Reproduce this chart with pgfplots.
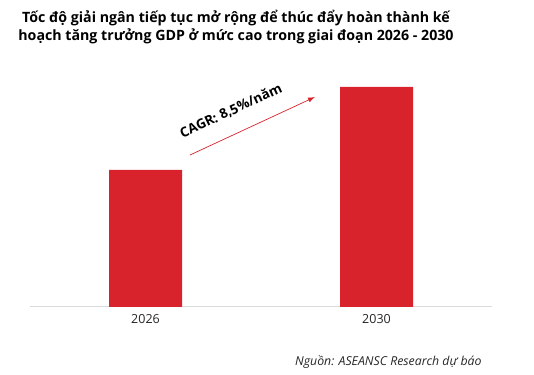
\documentclass[border=0pt]{standalone}
\usepackage{fontspec}
\setmainfont{Open Sans}
\usepackage{pgfplots}
\usetikzlibrary{arrows.meta}
\pgfplotsset{compat=1.18}
\definecolor{barred}{RGB}{216,35,45}
\definecolor{basegray}{RGB}{220,220,220}
\begin{document}
\begin{tikzpicture}[x=1pt,y=1pt]
\path[use as bounding box] (0,0) rectangle (534,374);
\begin{axis}[
  at={(30pt,67pt)}, anchor=south west,
  width=462pt, height=247pt, scale only axis,
  xmin=-0.5, xmax=1.5, ymin=0, ymax=247,
  ybar, bar width=73pt,
  axis x line=bottom, axis y line=none,
  x axis line style={draw=basegray, line width=1pt, -},
  xtick={0,1}, xticklabels={2026,2030},
  major tick length=0pt,
  xticklabel style={font=\fontsize{12.5}{14}\selectfont, text=black!85, yshift=-4pt},
  /pgf/number format/assume math mode=true,
  ytick=\empty,
  clip=false,
]
\addplot[fill=barred, draw=none] coordinates {(0,137) (1,220)};
\end{axis}
\node[align=center, font=\bfseries\fontsize{14.2}{18.5}\selectfont, text=black] at (236,347)
  {Tốc độ giải ngân tiếp tục mở rộng để thúc đẩy hoàn thành kế\\hoạch tăng trưởng GDP ở mức cao trong giai đoạn 2026 - 2030};
\draw[barred, line width=0.7pt, -{Latex[length=7pt,width=5pt]}] (190,219) -- (315,277);
\node[rotate=25, font=\bfseries\fontsize{13.5}{15}\selectfont] at (231,263) {CAGR: 8,5\%/năm};
\node[anchor=base east, font=\itshape\fontsize{12.3}{14}\selectfont, text=black!85] at (485,9) {Nguồn: ASEANSC Research dự báo};
\end{tikzpicture}
\end{document}
